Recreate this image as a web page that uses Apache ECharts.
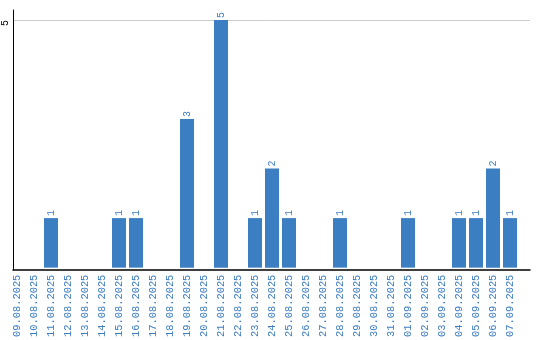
<!DOCTYPE html>
<html>
<head>
<meta charset="utf-8">
<script src="https://cdn.jsdelivr.net/npm/echarts@6/dist/echarts.min.js"></script>
<style>html,body{margin:0;padding:0;background:#fff}#c{width:540px;height:340px}</style>
</head>
<body>
<div id="c"></div>
<script>
const categories = ['09.08.2025','10.08.2025','11.08.2025','12.08.2025','13.08.2025','14.08.2025','15.08.2025','16.08.2025','17.08.2025','18.08.2025','19.08.2025','20.08.2025','21.08.2025','22.08.2025','23.08.2025','24.08.2025','25.08.2025','26.08.2025','27.08.2025','28.08.2025','29.08.2025','30.08.2025','31.08.2025','01.09.2025','02.09.2025','03.09.2025','04.09.2025','05.09.2025','06.09.2025','07.09.2025'];
const values = [0,0,1,0,0,0,1,1,0,0,3,0,5,0,1,2,1,0,0,1,0,0,0,1,0,0,1,1,2,1];
const yTicks = [5];

const blue = '#3b7ec2';
const txt = '#3c7dc0';
const font = '"Liberation Mono", "DejaVu Sans Mono", monospace';

const chart = echarts.init(document.getElementById('c'), null, {renderer: 'canvas'});
chart.setOption({
  animation: false,
  grid: [
    {left: 10.5, right: 10, top: 10, bottom: 70, containLabel: false},
    {left: 8.5, right: 21.5, top: 10, bottom: 70, containLabel: false}
  ],
  xAxis: [{
    type: 'value',
    gridIndex: 0,
    min: 0, max: 1,
    axisLine: {show: true, lineStyle: {color: '#000', width: 1.5}},
    axisTick: {show: false},
    axisLabel: {show: false},
    splitLine: {show: false}
  }, {
    type: 'category',
    gridIndex: 1,
    data: categories,
    axisLine: {show: false},
    axisTick: {show: false},
    axisLabel: {interval: 0, rotate: 90, margin: 7, color: txt, fontSize: 10.4, fontFamily: font},
    splitLine: {show: false}
  }],
  yAxis: [{
    type: 'value',
    gridIndex: 0,
    min: 0, max: 5.2, interval: 5,
    axisLine: {show: true, lineStyle: {color: '#000', width: 1}},
    axisTick: {show: false},
    axisLabel: {
      rotate: 90, margin: 3, align: 'right', color: '#000', fontSize: 10, fontFamily: font,
      showMinLabel: false, showMaxLabel: false,
      formatter: v => yTicks.indexOf(v) >= 0 ? String(v) : ''
    },
    splitLine: {show: true, showMinLine: false, showMaxLine: false, lineStyle: {color: '#cccccc', width: 1}}
  }, {
    type: 'value', gridIndex: 1, min: 0, max: 5.2, show: false
  }],
  series: [{
    type: 'bar',
    xAxisIndex: 1, yAxisIndex: 1,
    data: values.map(v => v === 0 ? null : v),
    barWidth: 14,
    itemStyle: {color: blue},
    label: {
      show: true, position: 'top', rotate: 90, align: 'left', verticalAlign: 'middle',
      distance: 2, color: txt, fontSize: 10, fontFamily: font
    }
  }]
});
</script>
</body>
</html>
